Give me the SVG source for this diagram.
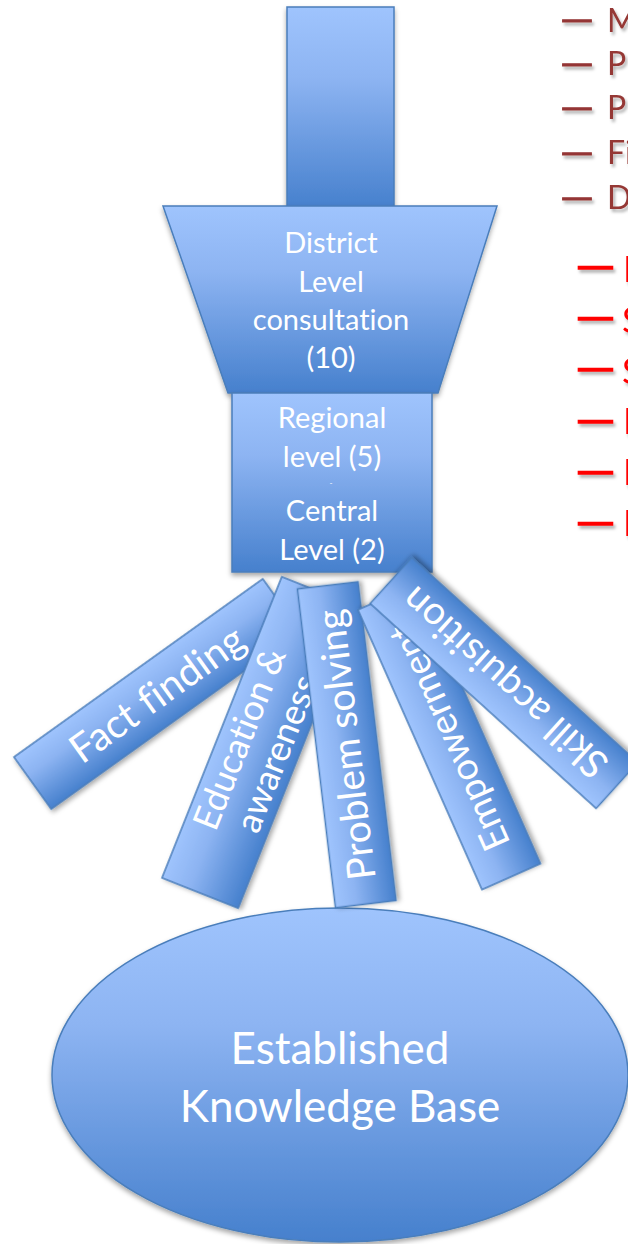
<svg xmlns="http://www.w3.org/2000/svg" width="628" height="1244" viewBox="0 0 628 1244">
<defs>
<linearGradient id="blue" x1="0" y1="0" x2="0" y2="1">
<stop offset="0" stop-color="#9FC4FD"/>
<stop offset="0.35" stop-color="#8DB4F2"/>
<stop offset="1" stop-color="#4680CD"/>
</linearGradient>
<filter id="sh" x="-20%" y="-20%" width="140%" height="140%">
<feDropShadow dx="0" dy="3" stdDeviation="2.5" flood-color="#000" flood-opacity="0.35"/>
</filter>
<filter id="tsh" x="-20%" y="-40%" width="140%" height="180%">
<feDropShadow dx="2" dy="3" stdDeviation="1.5" flood-color="#000" flood-opacity="0.3"/>
</filter>
</defs>
<style>
.shape{fill:url(#blue);stroke:#4A7EBB;stroke-width:1.5;filter:url(#sh)}
.wt{fill:#fff;font-family:Lato,"Open Sans",sans-serif;text-anchor:middle;font-variant-ligatures:none}
.dr{fill:#953735;font-family:Lato,"Open Sans",sans-serif;font-size:32px;filter:url(#tsh);font-variant-ligatures:none}
.rd{fill:#FF0000;font-family:Lato,"Open Sans",sans-serif;font-size:36px;filter:url(#tsh)}
.drd{fill:#953735;stroke:#953735;stroke-width:1.2;font-family:"Liberation Sans",Arial,sans-serif;font-size:32px;filter:url(#tsh)}
.rdd{fill:#FF0000;stroke:#FF0000;stroke-width:1.6;font-family:"Liberation Sans",Arial,sans-serif;font-size:36px;filter:url(#tsh)}
</style>

<g id="connectors"></g>

<g id="list-dark">
<text class="drd" x="563" y="29" textLength="28" lengthAdjust="spacingAndGlyphs">–</text><text class="dr" x="607" y="32">M</text>
<text class="drd" x="563" y="73" textLength="28" lengthAdjust="spacingAndGlyphs">–</text><text class="dr" x="607" y="75">P</text>
<text class="drd" x="563" y="117" textLength="28" lengthAdjust="spacingAndGlyphs">–</text><text class="dr" x="607" y="119">P</text>
<text class="drd" x="563" y="162" textLength="28" lengthAdjust="spacingAndGlyphs">–</text><text class="dr" x="607" y="164">Fi</text>
<text class="drd" x="563" y="207" textLength="28" lengthAdjust="spacingAndGlyphs">–</text><text class="dr" x="607" y="209">D</text>
</g>
<g id="list-red">
<text class="rdd" x="579" y="277" textLength="33" lengthAdjust="spacingAndGlyphs">–</text><text class="rd" x="623" y="282">I</text>
<text class="rdd" x="579" y="328" textLength="33" lengthAdjust="spacingAndGlyphs">–</text><text class="rd" x="622" y="333">S</text>
<text class="rdd" x="579" y="379" textLength="33" lengthAdjust="spacingAndGlyphs">–</text><text class="rd" x="622" y="384">S</text>
<text class="rdd" x="579" y="431" textLength="33" lengthAdjust="spacingAndGlyphs">–</text><text class="rd" x="623" y="434">I</text>
<text class="rdd" x="579" y="482" textLength="33" lengthAdjust="spacingAndGlyphs">–</text><text class="rd" x="623" y="485">I</text>
<text class="rdd" x="579" y="533" textLength="33" lengthAdjust="spacingAndGlyphs">–</text><text class="rd" x="623" y="536">I</text>
</g>

<g id="top-bar">
<rect class="shape" x="287" y="7" width="107" height="202"/>
</g>

<g id="district">
<polygon class="shape" points="163,206 497,206 438,393 228,393"/>
<text class="wt" font-size="29" x="331" y="253">District</text>
<text class="wt" font-size="29" x="331" y="292">Level</text>
<text class="wt" font-size="29" x="331" y="330">consultation</text>
<text class="wt" font-size="29" x="331" y="368">(10)</text>
</g>

<g id="regional-central">
<rect class="shape" x="232" y="393" width="200" height="179"/>
<text class="wt" font-size="29" x="332" y="428">Regional</text>
<text class="wt" font-size="29" x="332" y="467">level (5)</text>
<text class="wt" font-size="8" x="331" y="486">-</text>
<text class="wt" font-size="29" x="332" y="521">Central</text>
<text class="wt" font-size="29" x="332" y="560">Level (2)</text>
</g>

<g id="knowledge-base">
<ellipse class="shape" cx="340" cy="1075" rx="288" ry="167"/>
<text class="wt" font-size="44" x="340" y="1064">Established</text>
<text class="wt" font-size="44" x="340" y="1122">Knowledge Base</text>
</g>

<g id="fact-finding" transform="translate(157,694) rotate(-35.6)">
<rect class="shape" x="-153" y="-32" width="306" height="64"/>
<text class="wt" font-size="40" x="0" y="14">Fact finding</text>
</g>

<g id="education" transform="translate(260,742.5) rotate(-68.3)">
<rect class="shape" x="-162" y="-41" width="324" height="82"/>
<text class="wt" font-size="36" x="-4" y="-8">Education &amp;</text>
<text class="wt" font-size="36" x="-4" y="32">awareness</text>
</g>

<g id="problem-solving" transform="translate(346.75,744.75) rotate(-96.8)">
<rect class="shape" x="-160.5" y="-30.5" width="321" height="61"/>
<text class="wt" font-size="39" x="0" y="13">Problem solving</text>
</g>

<g id="empowerment" transform="translate(449.25,736.75) rotate(-113.9)">
<rect class="shape" x="-153" y="-32" width="306" height="64"/>
<text class="wt" font-size="38" x="0" y="13">Empowerment</text>
</g>

<g id="skill-acquisition" transform="translate(504,683) rotate(-137.8)">
<rect class="shape" x="-152.5" y="-31" width="305" height="62"/>
<text class="wt" font-size="39" x="0" y="14">Skill acquisition</text>
</g>
</svg>
